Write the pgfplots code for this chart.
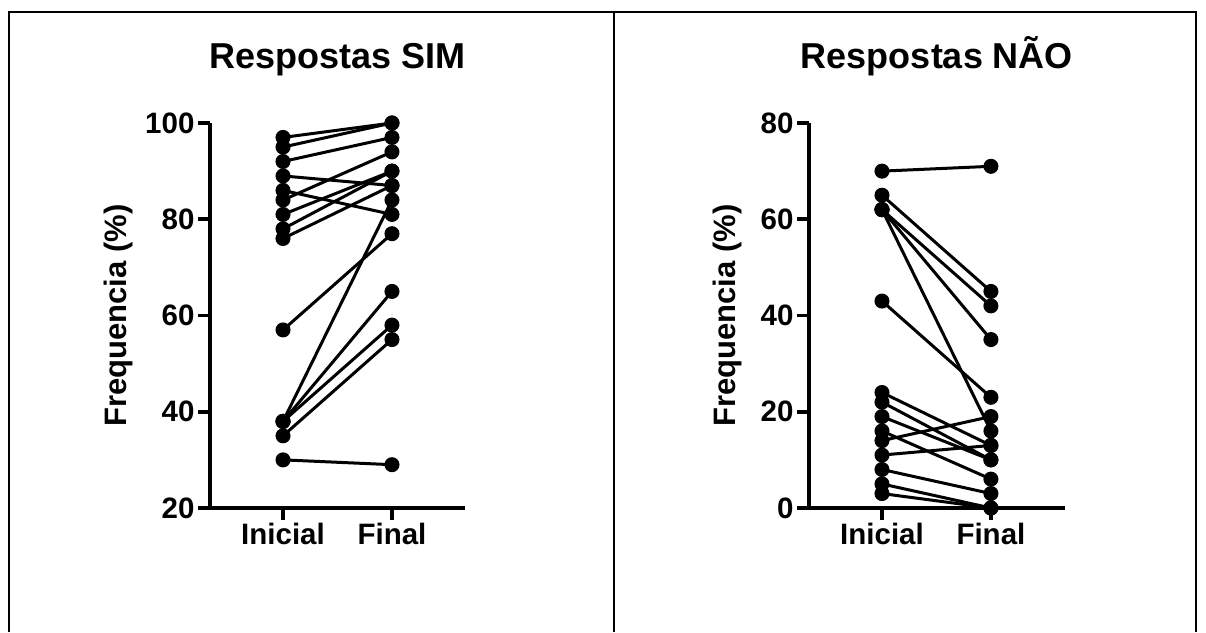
\documentclass[border=0pt]{standalone}
\usepackage{fontspec}
\setmainfont{Liberation Sans}
\usepackage{pgfplots}
\pgfplotsset{compat=1.18}

\pgfplotscreateplotcyclelist{bw}{{black, solid, mark=*, mark options={solid, fill=black}}\\}

\pgfplotsset{
  myaxis/.style={
    scale only axis, width=255pt, height=385pt,
    axis x line*=bottom, axis y line*=left,
    axis line style={line width=3.5pt},
    xmin=-0.67, xmax=1.67,
    xtick={0,1}, xticklabels={Inicial,Final},
    tick align=outside, major tick length=12pt,
    major tick style={line width=3.5pt, black},
    ticklabel style={font=\fontsize{29.5}{32}\selectfont\bfseries},
    /pgf/number format/assume math mode=true,
    ylabel={Frequencia (\%)},
    label style={font=\fontsize{31}{34}\selectfont\bfseries},
    title style={font=\fontsize{36}{40}\selectfont\bfseries, at={(0.5,1)}, anchor=base, yshift=48pt},
    cycle list name=bw,
    every axis plot/.append style={line width=3pt, mark size=6pt},
    clip=false,
  }
}

\begin{document}
\begin{tikzpicture}
\path[use as bounding box] (0pt,0pt) rectangle (1206pt,632pt);
\draw[line width=2pt] (9pt,0pt) -- (9pt,620pt) -- (1196pt,620pt) -- (1196pt,0pt);
\draw[line width=2pt] (614pt,0pt) -- (614pt,620pt);

\begin{axis}[myaxis, at={(210pt,124pt)}, anchor=south west,
  ymin=20, ymax=100, ytick={20,40,60,80,100},
  title={Respostas SIM},
  ylabel style={at={(axis description cs:-0.3255,0.5)}, anchor=base},
]
\addplot coordinates {(0,97) (1,100)};
\addplot coordinates {(0,95) (1,100)};
\addplot coordinates {(0,92) (1,97)};
\addplot coordinates {(0,89) (1,87)};
\addplot coordinates {(0,86) (1,81)};
\addplot coordinates {(0,84) (1,94)};
\addplot coordinates {(0,81) (1,90)};
\addplot coordinates {(0,78) (1,90)};
\addplot coordinates {(0,76) (1,87)};
\addplot coordinates {(0,57) (1,77)};
\addplot coordinates {(0,38) (1,84)};
\addplot coordinates {(0,38) (1,65)};
\addplot coordinates {(0,38) (1,58)};
\addplot coordinates {(0,35) (1,55)};
\addplot coordinates {(0,30) (1,29)};
\end{axis}

\begin{axis}[myaxis, at={(809pt,124pt)}, anchor=south west, width=256pt,
  xmax=1.68,
  ymin=0, ymax=80, ytick={0,20,40,60,80},
  title={Respostas NÃO},
  ylabel style={at={(axis description cs:-0.289,0.5)}, anchor=base},
]
\addplot coordinates {(0,70) (1,71)};
\addplot coordinates {(0,65) (1,45)};
\addplot coordinates {(0,62) (1,42)};
\addplot coordinates {(0,62) (1,35)};
\addplot coordinates {(0,62) (1,16)};
\addplot coordinates {(0,43) (1,23)};
\addplot coordinates {(0,24) (1,13)};
\addplot coordinates {(0,22) (1,10)};
\addplot coordinates {(0,19) (1,10)};
\addplot coordinates {(0,16) (1,6)};
\addplot coordinates {(0,14) (1,19)};
\addplot coordinates {(0,11) (1,13)};
\addplot coordinates {(0,8) (1,3)};
\addplot coordinates {(0,5) (1,0)};
\addplot coordinates {(0,3) (1,0)};
\end{axis}
\end{tikzpicture}
\end{document}
